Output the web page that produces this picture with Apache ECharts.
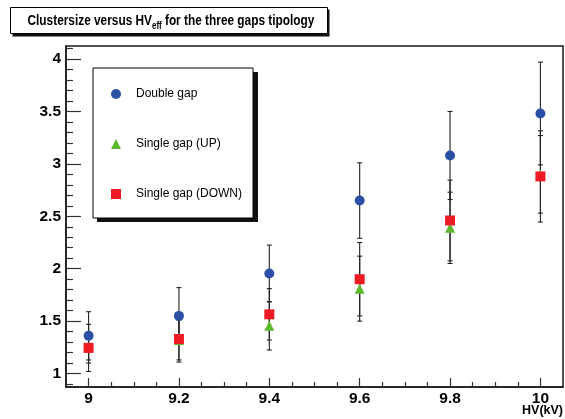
<!DOCTYPE html>
<html>
<head>
<meta charset="utf-8">
<script src="https://cdn.jsdelivr.net/npm/echarts@6/dist/echarts.min.js"></script>
<style>
  html, body { margin: 0; padding: 0; background: #fff; }
  #chart { width: 565px; height: 419px; }
</style>
</head>
<body>
<div id="chart"></div>
<script>
// Effective high voltage (kV)
const hv = [9, 9.2, 9.4, 9.6, 9.8, 10];

// Mean cluster size and its uncertainty for each gap configuration
const doubleGap = [1.36, 1.55, 1.955, 2.65, 3.08, 3.48];
const doubleGapErr = [0.23, 0.27, 0.27, 0.36, 0.42, 0.49];

const singleGapUp = [1.25, 1.32, 1.455, 1.81, 2.39, 2.90];
const singleGapUpErr = [0.15, 0.19, 0.23, 0.31, 0.34, 0.37];

const singleGapDown = [1.245, 1.33, 1.565, 1.90, 2.46, 2.88];
const singleGapDownErr = [0.225, 0.22, 0.245, 0.35, 0.385, 0.435];

// Axis ticks
const xMajorTicks = [9, 9.2, 9.4, 9.6, 9.8, 10];
const yMajorTicks = [1, 1.5, 2, 2.5, 3, 3.5, 4];

const xRange = [8.95, 10.05];
const yRange = [0.872, 4.124];

const FONT = 'Liberation Sans, Arial, Helvetica, sans-serif';
const FRAME = '#1a1a1a';

function minorTicks(from, to, step, majors) {
  const out = [];
  for (let k = Math.round(from / step); k * step <= to + 1e-9; k++) {
    const v = Math.round(k * step * 1000) / 1000;
    if (!majors.some(m => Math.abs(m - v) < 1e-6)) out.push(v);
  }
  return out;
}
const xMinorTicks = minorTicks(9.05, 9.95, 0.05, xMajorTicks);
const yMinorTicks = minorTicks(0.9, 4.1, 0.1, yMajorTicks);

function errorBars(name, values, errs) {
  return {
    name: name + ' err',
    type: 'custom',
    xAxisIndex: 0,
    yAxisIndex: 0,
    silent: true,
    z: 1,
    encode: { x: 0, y: [1, 2] },
    data: hv.map((x, i) => [x, values[i] - errs[i], values[i] + errs[i]]),
    renderItem: function (params, api) {
      const lo = api.coord([api.value(0), api.value(1)]);
      const hi = api.coord([api.value(0), api.value(2)]);
      const cap = 2.5;
      const style = { stroke: '#222', lineWidth: 1.1 };
      return {
        type: 'group',
        children: [
          { type: 'line', shape: { x1: lo[0], y1: lo[1], x2: hi[0], y2: hi[1] }, style },
          { type: 'line', shape: { x1: hi[0] - cap, y1: hi[1], x2: hi[0] + cap, y2: hi[1] }, style },
          { type: 'line', shape: { x1: lo[0] - cap, y1: lo[1], x2: lo[0] + cap, y2: lo[1] }, style }
        ]
      };
    }
  };
}

function points(name, values, symbol, size, color) {
  return {
    name: name,
    type: 'scatter',
    xAxisIndex: 0,
    yAxisIndex: 0,
    z: 3,
    symbol: symbol,
    symbolSize: size,
    itemStyle: { color: color, opacity: 1 },
    data: hv.map((x, i) => [x, values[i]])
  };
}

const chart = echarts.init(document.getElementById('chart'), null, { renderer: 'canvas' });

chart.setOption({
  animation: false,
  backgroundColor: '#fff',
  legend: {
    data: ['Double gap', 'Single gap (UP)', 'Single gap (DOWN)'],
    orient: 'vertical',
    left: 93,
    top: 68,
    z: 10,
    padding: [20, 11, 18, 18],
    itemWidth: 10,
    itemHeight: 10,
    itemGap: 38,
    symbolKeepAspect: true,
    selectedMode: false,
    backgroundColor: '#fff',
    borderColor: '#000',
    borderWidth: 1,
    textStyle: { fontFamily: FONT, fontSize: 12, color: '#000', padding: [0, 0, 0, 10] }
  },
  graphic: [
    // drop shadow under the legend box
    { type: 'rect', z: 5, left: 97, top: 72, shape: { width: 161, height: 150 }, style: { fill: '#111' } },
    // title box with its shadow and a condensed bold heading
    {
      type: 'group', left: 10, top: 7, z: 10,
      children: [
        { type: 'rect', shape: { x: 2, y: 2, width: 317, height: 27 }, style: { fill: '#111' } },
        { type: 'rect', shape: { x: 0, y: 0, width: 317, height: 26 }, style: { fill: '#fff', stroke: '#000', lineWidth: 1 } },
        {
          type: 'text', x: 17, y: 13, scaleX: 0.79, scaleY: 1,
          style: {
            text: 'Clustersize versus HV{sub|eff} for the three gaps tipology',
            fill: '#000',
            fontFamily: FONT,
            fontSize: 15,
            fontWeight: 'bold',
            lineHeight: 22,
            align: 'left',
            verticalAlign: 'middle',
            rich: {
              sub: {
                fontFamily: FONT,
                fontSize: 10,
                fontWeight: 'bold',
                fill: '#000',
                lineHeight: 8,
                verticalAlign: 'bottom'
              }
            }
          }
        }
      ]
    },
    {
      type: 'text', z: 10, right: 2, top: 404,
      style: { text: 'HV(kV)', fill: '#000', font: 'bold 12.5px ' + FONT }
    }
  ],
  grid: {
    left: 66,
    right: 2,
    top: 46,
    bottom: 32,
    containLabel: false,
    outerBoundsMode: 'none',
    show: true,
    borderColor: FRAME,
    borderWidth: 1.5,
    backgroundColor: 'transparent'
  },
  xAxis: [
    {
      type: 'value',
      min: xRange[0],
      max: xRange[1],
      position: 'bottom',
      axisLine: { show: true, onZero: false, lineStyle: { color: FRAME, width: 1.5 } },
      axisTick: {
        show: true, inside: true, length: 9,
        customValues: xMajorTicks,
        lineStyle: { color: '#333', width: 1.2 }
      },
      axisLabel: {
        customValues: xMajorTicks,
        margin: 4,
        fontFamily: FONT,
        fontSize: 15.5,
        fontWeight: 'bold',
        color: '#000'
      },
      splitLine: { show: false }
    },
    {
      type: 'value',
      min: xRange[0],
      max: xRange[1],
      position: 'bottom',
      axisLine: { show: false, onZero: false },
      axisTick: {
        show: true, inside: true, length: 5,
        customValues: xMinorTicks,
        lineStyle: { color: '#333', width: 1.2 }
      },
      axisLabel: { show: false },
      splitLine: { show: false }
    }
  ],
  yAxis: [
    {
      type: 'value',
      min: yRange[0],
      max: yRange[1],
      position: 'left',
      axisLine: { show: true, onZero: false, lineStyle: { color: FRAME, width: 1.5 } },
      axisTick: {
        show: true, inside: true, length: 15,
        customValues: yMajorTicks,
        lineStyle: { color: '#333', width: 1.2 }
      },
      axisLabel: {
        customValues: yMajorTicks,
        margin: 5,
        fontFamily: FONT,
        fontSize: 15.5,
        fontWeight: 'bold',
        color: '#000'
      },
      splitLine: { show: false }
    },
    {
      type: 'value',
      min: yRange[0],
      max: yRange[1],
      position: 'left',
      axisLine: { show: false, onZero: false },
      axisTick: {
        show: true, inside: true, length: 7,
        customValues: yMinorTicks,
        lineStyle: { color: '#333', width: 1.2 }
      },
      axisLabel: { show: false },
      splitLine: { show: false }
    }
  ],
  series: [
    errorBars('Double gap', doubleGap, doubleGapErr),
    errorBars('Single gap (UP)', singleGapUp, singleGapUpErr),
    errorBars('Single gap (DOWN)', singleGapDown, singleGapDownErr),
    points('Double gap', doubleGap, 'circle', 10, '#2b50a6'),
    points('Single gap (UP)', singleGapUp, 'triangle', 10, '#5cb82c'),
    points('Single gap (DOWN)', singleGapDown, 'rect', 10, '#ee1b24')
  ]
});
</script>
</body>
</html>
